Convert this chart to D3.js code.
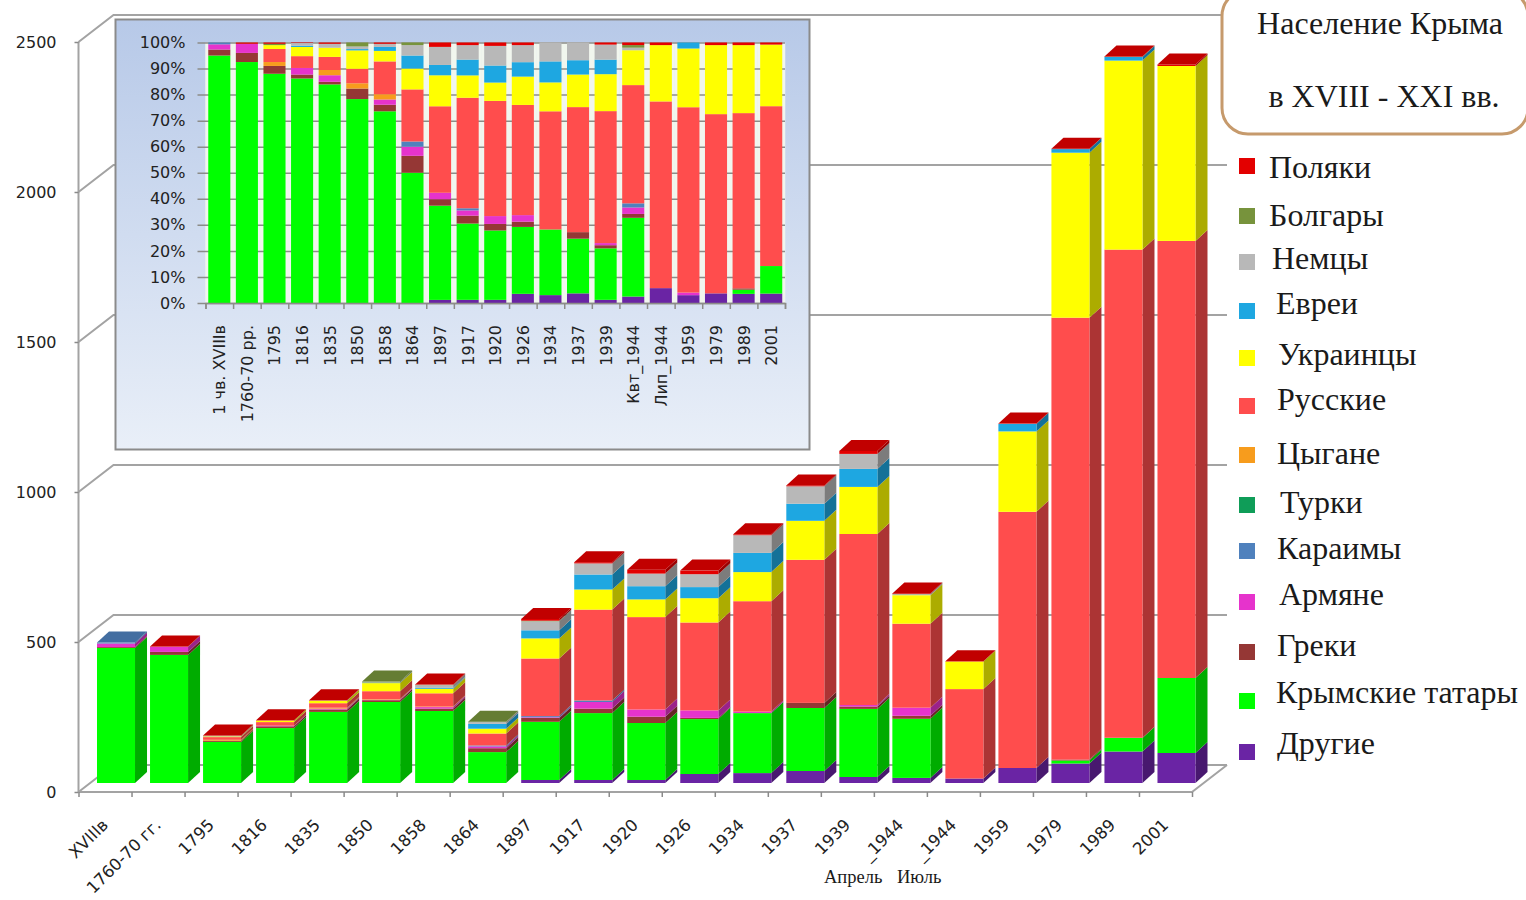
<!DOCTYPE html>
<html>
<head>
<meta charset="utf-8">
<title>Население Крыма</title>
<script src="https://cdn.jsdelivr.net/npm/d3@7"></script>
<style>
  html, body { margin: 0; padding: 0; background: #fff; }
  svg { display: block; }
  text { font-family: "DejaVu Sans", sans-serif; fill: #222; }
  .serif { font-family: "Liberation Serif", serif; fill: #1a1a1a; }
</style>
</head>
<body>
<div id="graph"></div>
<script>
// main chart, thousands of people
var categories = ["XVIIIв", "1760-70 гг.", "1795", "1816", "1835", "1850", "1858", "1864", "1897", "1917", "1920", "1926", "1934", "1937", "1939", "_1944", "_1944", "1959", "1979", "1989", "2001"];
var popOther   = [0, 0, 0, 0, 0, 0, 0, 0, 10, 10, 10, 30, 33, 40, 20, 17, 15, 50, 65, 105, 100];
var popTatars  = [450, 427, 137, 183, 237, 270, 240, 103, 194, 223, 190, 183, 200, 210, 227, 197, 0, 0, 10, 45, 250];
var popGreeks  = [3, 10, 4, 6, 8, 6, 8, 13, 13, 15, 21, 4, 0, 17, 8, 10, 0, 0, 3, 1, 0];
var popArmen   = [12, 17, 0, 2, 3, 2, 5, 6, 2, 22, 24, 25, 5, 0, 5, 27, 0, 0, 0, 0, 0];
var popKaraim  = [3, 0, 0, 0, 0, 0, 0, 3, 4, 5, 0, 0, 0, 0, 0, 0, 0, 0, 0, 0, 0];
var popTurks   = [0, 0, 0, 0, 0, 0, 0, 0, 0, 0, 0, 0, 0, 0, 0, 0, 0, 0, 0, 0, 0];
var popGypsy   = [0, 0, 3, 0, 3, 2, 2, 0, 0, 0, 0, 0, 0, 0, 0, 0, 0, 0, 0, 0, 0];
var popRussian = [0, 0, 9, 12, 15, 26, 44, 40, 192, 303, 308, 293, 368, 477, 570, 280, 298, 854, 1473, 1627, 1457];
var popUkrain  = [0, 0, 2, 5, 8, 27, 15, 16, 67, 67, 59, 81, 97, 130, 157, 95, 92, 268, 550, 630, 583];
var popJews    = [0, 0, 0, 0, 0, 1, 3, 16, 27, 50, 44, 37, 64, 57, 60, 0, 0, 25, 12, 12, 0];
var popGermans = [0, 0, 1, 0, 1, 1, 9, 6, 30, 37, 42, 43, 59, 58, 50, 3, 0, 0, 0, 0, 0];
var popBulgar  = [0, 0, 1, 0, 0, 3, 1, 1, 2, 0, 0, 0, 0, 0, 0, 1, 0, 0, 0, 1, 0];
var popPoles   = [0, 1, 1, 1, 1, 0, 1, 0, 6, 4, 13, 12, 3, 3, 10, 2, 1, 1, 1, 1, 5];

// inset, percent of the year's total
var insetCategories = ["1 чв. XVIIIв", "1760-70 рр.", "1795", "1816", "1835", "1850", "1858", "1864", "1897", "1917", "1920", "1926", "1934", "1937", "1939", "Квт_1944", "Лип_1944", "1959", "1979", "1989", "2001"];
var pctOther   = [0, 0, 0, 0, 0, 0, 0, 0, 1.2, 1.2, 1.2, 3.5, 3, 3.7, 1.2, 2.5, 5.7, 3, 3.7, 3.5, 3.6];
var pctTatars  = [95, 92.5, 88, 85.5, 83.5, 77.5, 73, 50, 36.5, 29, 26.5, 25.5, 25, 21, 19.5, 30.5, 0, 0, 0, 1.6, 10.5];
var pctGreeks  = [2.3, 3.5, 3, 1.5, 1, 4, 2.5, 6.5, 2.5, 3, 2.5, 2, 0, 2.5, 1.2, 1.5, 0, 0, 0, 0.5, 0];
var pctArmen   = [2, 3.5, 0, 2.5, 2.5, 0, 2, 3.5, 2.5, 2, 3, 2.5, 0, 0, 0.8, 2.5, 0, 1, 0, 0, 0];
var pctKaraim  = [0.7, 0, 0, 0, 0, 0, 0, 2, 0, 0.8, 0, 0, 0, 0, 0, 1.6, 0, 0, 0, 0, 0];
var pctTurks   = [0, 0, 0, 0, 0, 0, 0, 0, 0, 0, 0, 0, 0, 0, 0, 0, 0, 0, 0, 0, 0];
var pctGypsy   = [0, 0, 1.5, 0, 2, 2, 2, 0, 0, 0, 0, 0, 0, 0, 0, 0, 0, 0, 0, 0, 0];
var pctRussian = [0, 0, 5, 4.5, 5, 5.5, 12.5, 20, 33.5, 42, 44, 42, 45, 48, 50, 45.8, 71.6, 71, 68.8, 67, 61];
var pctUkrain  = [0, 0, 1.5, 3.5, 3.5, 7, 4, 8, 12, 8.5, 7, 10.8, 11, 12.5, 14, 13.5, 21.6, 22.5, 26.5, 26, 23.5];
var pctJews    = [0, 0, 0, 0.5, 0, 0.5, 1.5, 5, 4, 6, 6.5, 5.5, 8, 5.5, 5.5, 0, 0, 2.3, 0, 0, 0];
var pctGermans = [0, 0, 0, 1, 1.5, 1, 1.2, 4, 7, 5.5, 7.5, 6.5, 7.2, 6.8, 5.7, 1, 0, 0, 0, 0, 0];
var pctBulgar  = [0, 0, 0.5, 0, 0, 1.5, 0, 1, 0, 0, 0, 0, 0, 0, 0, 1, 0, 0, 0, 0, 0];
var pctPoles   = [0, 0.5, 0.5, 0.2, 0.5, 0, 0.5, 0, 1.7, 1, 1.3, 1, 0, 0, 0.8, 1, 1, 0, 1, 1, 0.8];

var seriesNames = ["Другие", "Крымские татары", "Греки", "Армяне", "Караимы", "Турки", "Цыгане", "Русские", "Украинцы", "Евреи", "Немцы", "Болгары", "Поляки"];
var seriesColors = ["#6a24a4", "#00ff00", "#953735", "#e633cc", "#4f81bd", "#0f9d58", "#f79c1d", "#ff4d4d", "#ffff00", "#1ea7e1", "#b8b8b8", "#77933c", "#e30000"];
var popValues = [popOther, popTatars, popGreeks, popArmen, popKaraim, popTurks, popGypsy, popRussian, popUkrain, popJews, popGermans, popBulgar, popPoles];
var pctValues = [pctOther, pctTatars, pctGreeks, pctArmen, pctKaraim, pctTurks, pctGypsy, pctRussian, pctUkrain, pctJews, pctGermans, pctBulgar, pctPoles];

var yTicks = [0, 500, 1000, 1500, 2000, 2500];
var pctTicks = [0, 10, 20, 30, 40, 50, 60, 70, 80, 90, 100];

// legend layout, top to bottom: square centre, label x, label centre
var legendSquareY = [166, 216, 262, 311, 358, 406, 455, 505, 551, 602, 652, 701, 752];
var legendLabelX = [1269, 1269, 1272, 1276, 1278, 1277, 1277, 1280, 1277, 1279, 1277, 1276, 1277];
var legendLabelY = [168, 216, 259, 304, 355, 400, 454, 503, 549, 595, 646, 693, 744];

var svgWidth = 1526;
var svgHeight = 900;

var svg = d3.select("#graph")
      .append("svg")
      .attr("width", svgWidth)
      .attr("height", svgHeight);

function rowsFor(names, valueLists) {
  return names.map(function(name, i){
    var row = {name: name, index: i};
    seriesNames.forEach(function(s, k){ row[s] = valueLists[k][i]; });
    return row;
  });
}

// ---- main 3d chart
var axisLeftX = 78.5;
var axisRightX = 1192;
var floorDx = 35, floorDy = -27;    // back wall offset
var planeDx = 11, planeDy = -9;     // where the front of the bars sits on the floor
var barDx = 12, barDy = -11;        // bar depth

var y = d3.scaleLinear().domain([0, 2500]).range([792, 42]);
var xTick = d3.scaleLinear().domain([0, categories.length]).range([axisLeftX, axisRightX]);
var x = d3.scaleBand()
      .domain(d3.range(categories.length))
      .range([axisLeftX + planeDx, axisRightX + planeDx])
      .paddingInner(0.283)
      .paddingOuter(0.1415);
var xLabel = d3.scaleBand().domain(d3.range(categories.length)).range([axisLeftX, axisRightX]);

var grid = svg.append("g").attr("fill", "none").attr("stroke", "#a3a3a3").attr("stroke-width", 2);

grid.selectAll("path")
      .data(yTicks)
      .enter().append("path")
      .attr("d", function(d){
        return d3.line()([
          [axisLeftX, y(d)],
          [axisLeftX + floorDx, y(d) + floorDy],
          [axisRightX + floorDx, y(d) + floorDy]
        ]);
      });

grid.append("path")
      .attr("d", d3.line()([
        [axisLeftX, y(0)],
        [axisRightX, y(0)],
        [axisRightX + floorDx, y(0) + floorDy]
      ]));

grid.append("path")
      .attr("d", d3.line()([[axisLeftX, y(0)], [axisLeftX, y(2500)]]));

var mainRows = rowsFor(categories, popValues);
var mainStack = d3.stack().keys(seriesNames)(mainRows);
var bars = svg.append("g");

mainStack.forEach(function(layer, k){
  var color = seriesColors[k];
  var side = d3.color(color).darker(1.1).formatHex();
  var layerG = bars.append("g");
  var visible = layer.filter(function(d){ return d[1] > d[0]; });

  layerG.selectAll("path")
      .data(visible)
      .enter().append("path")
      .attr("fill", side)
      .attr("d", function(d){
        var x1 = x(d.data.index) + x.bandwidth();
        var y0 = y(d[0]) + planeDy, y1 = y(d[1]) + planeDy;
        return d3.line()([[x1, y0], [x1 + barDx, y0 + barDy], [x1 + barDx, y1 + barDy], [x1, y1]]) + "Z";
      });

  layerG.selectAll("rect")
      .data(visible)
      .enter().append("rect")
      .attr("fill", color)
      .attr("x", function(d){ return x(d.data.index); })
      .attr("width", x.bandwidth())
      .attr("y", function(d){ return y(d[1]) + planeDy; })
      .attr("height", function(d){ return y(d[0]) - y(d[1]); });
});

// top face takes the colour of the last series in the bar
bars.append("g").selectAll("path")
      .data(mainRows)
      .enter().append("path")
      .attr("fill", function(row){
        var k = d3.max(seriesNames.map(function(s, i){ return row[s] > 0 ? i : -1; }));
        return d3.color(seriesColors[k]).darker(0.45).formatHex();
      })
      .attr("d", function(row){
        var total = d3.sum(seriesNames, function(s){ return row[s]; });
        var x0 = x(row.index), x1 = x0 + x.bandwidth(), t = y(total) + planeDy;
        return d3.line()([[x0, t], [x1, t], [x1 + barDx, t + barDy], [x0 + barDx, t + barDy]]) + "Z";
      });

var yAxis = d3.axisLeft(y).tickValues(yTicks).tickSize(4).tickPadding(18).tickFormat(d3.format("d"));
var yAxisG = svg.append("g")
      .attr("transform", "translate(" + axisLeftX + ",0)")
      .call(yAxis);
yAxisG.select(".domain").remove();
yAxisG.selectAll("line").attr("stroke", "#8a8a8a").attr("stroke-width", 1.5);
yAxisG.selectAll("text").attr("font-size", 16).attr("font-family", "DejaVu Sans").attr("fill", "#2b2b2b");

var xTickAxis = d3.axisBottom(xTick).tickValues(d3.range(categories.length + 1)).tickSize(5).tickFormat("");
var xTickG = svg.append("g")
      .attr("transform", "translate(0," + y(0) + ")")
      .call(xTickAxis);
xTickG.select(".domain").remove();
xTickG.selectAll("line").attr("stroke", "#8a8a8a").attr("stroke-width", 1.5);

var xLabelAxis = d3.axisBottom(xLabel).tickSize(0).tickFormat(function(i){ return categories[i]; });
var xLabelG = svg.append("g")
      .attr("transform", "translate(0," + y(0) + ")")
      .call(xLabelAxis);
xLabelG.select(".domain").remove();
xLabelG.selectAll("text")
      .attr("font-size", 16.5)
      .attr("font-family", "DejaVu Sans")
      .attr("fill", "#2b2b2b")
      .attr("text-anchor", "end")
      .attr("dy", null)
      .attr("y", 0)
      .attr("transform", "translate(4,34) rotate(-45)");

svg.append("text").attr("class", "serif").attr("x", 824).attr("y", 883).attr("font-size", 18.5).text("Апрель");
svg.append("text").attr("class", "serif").attr("x", 897).attr("y", 883).attr("font-size", 18.5).text("Июль");

// ---- inset, 100% stacked
var defs = svg.append("defs");
var gradient = defs.append("linearGradient")
      .attr("id", "panelFill")
      .attr("x1", 0).attr("y1", 0).attr("x2", 0).attr("y2", 1);
gradient.append("stop").attr("offset", "0%").attr("stop-color", "#b7c9e8");
gradient.append("stop").attr("offset", "100%").attr("stop-color", "#e9eff8");

svg.append("rect")
      .attr("x", 115.5).attr("y", 19.5)
      .attr("width", 694).attr("height", 430)
      .attr("fill", "url(#panelFill)")
      .attr("stroke", "#8b8b8b")
      .attr("stroke-width", 2);

var insetLeft = 205.5, insetRight = 785, insetTop = 42.5, insetBottom = 303;
var py = d3.scaleLinear().domain([0, 1]).range([insetBottom, insetTop]);
var pTick = d3.scaleLinear().domain([0, insetCategories.length]).range([insetLeft, insetRight]);
var px = d3.scaleBand()
      .domain(d3.range(insetCategories.length))
      .range([insetLeft, insetRight])
      .paddingInner(0.2)
      .paddingOuter(0.1);

var insetRows = rowsFor(insetCategories, pctValues);
var insetStack = d3.stack().keys(seriesNames).offset(d3.stackOffsetExpand)(insetRows);

// pale strips between the columns
svg.append("g").selectAll("rect")
      .data(d3.range(insetCategories.length))
      .enter().append("rect")
      .attr("x", function(i){ return px(i) - 3; })
      .attr("width", px.bandwidth() + 6)
      .attr("y", insetTop)
      .attr("height", insetBottom - insetTop)
      .attr("fill", "#f1f6ee");

var insetYAxis = d3.axisLeft(py)
      .tickValues(pctTicks.map(function(d){ return d / 100; }))
      .tickSize(insetRight - insetLeft + 8)
      .tickPadding(12)
      .tickFormat(d3.format(".0%"));
var insetYG = svg.append("g")
      .attr("transform", "translate(" + insetRight + ",0)")
      .call(insetYAxis);
insetYG.select(".domain").remove();
insetYG.selectAll("line").attr("stroke", "#8c8c88").attr("stroke-width", 1.5);
insetYG.selectAll("text").attr("font-size", 16).attr("font-family", "DejaVu Sans").attr("fill", "#2b2f3a");

svg.append("g").selectAll("g")
      .data(insetStack)
      .enter().append("g")
      .attr("fill", function(d, k){ return seriesColors[k]; })
      .selectAll("rect")
      .data(function(d){ return d; })
      .enter().append("rect")
      .attr("x", function(d){ return px(d.data.index); })
      .attr("width", px.bandwidth())
      .attr("y", function(d){ return py(d[1]); })
      .attr("height", function(d){ return py(d[0]) - py(d[1]); });

var insetTickG = svg.append("g")
      .attr("transform", "translate(0," + insetBottom + ")")
      .call(d3.axisBottom(pTick).tickValues(d3.range(insetCategories.length + 1)).tickSize(6).tickFormat(""));
insetTickG.select(".domain").attr("stroke", "#8c8c88").attr("stroke-width", 1.5);
insetTickG.selectAll("line").attr("stroke", "#8c8c88").attr("stroke-width", 1.5);

var insetXLabel = d3.scaleBand().domain(d3.range(insetCategories.length)).range([insetLeft, insetRight]);
var insetXG = svg.append("g")
      .attr("transform", "translate(0," + insetBottom + ")")
      .call(d3.axisBottom(insetXLabel).tickSize(0).tickFormat(function(i){ return insetCategories[i]; }));
insetXG.select(".domain").remove();
insetXG.selectAll("text")
      .attr("font-size", 16)
      .attr("font-family", "DejaVu Sans")
      .attr("fill", "#2b2f3a")
      .attr("text-anchor", "end")
      .attr("dy", null)
      .attr("y", 0)
      .attr("transform", "translate(6,22) rotate(-90)");

// ---- title box
svg.append("rect")
      .attr("x", 1222).attr("y", -10)
      .attr("width", 306).attr("height", 144)
      .attr("rx", 26)
      .attr("fill", "#fff")
      .attr("stroke", "#c69a6c")
      .attr("stroke-width", 3);

svg.append("text").attr("class", "serif").attr("x", 1380).attr("y", 34)
      .attr("text-anchor", "middle").attr("font-size", 32).text("Население Крыма");
svg.append("text").attr("class", "serif").attr("x", 1384).attr("y", 107)
      .attr("text-anchor", "middle").attr("font-size", 32).text("в XVIII - XXI вв.");

// ---- legend, Poles first
var legendItems = seriesNames.map(function(name, k){ return {name: name, color: seriesColors[k]}; }).reverse();

var legend = svg.append("g").selectAll("g")
      .data(legendItems)
      .enter().append("g");

legend.append("rect")
      .attr("x", 1239)
      .attr("y", function(d, i){ return legendSquareY[i] - 8; })
      .attr("width", 16)
      .attr("height", 16)
      .attr("fill", function(d){ return d.color; });

legend.append("text")
      .attr("class", "serif")
      .attr("x", function(d, i){ return legendLabelX[i]; })
      .attr("y", function(d, i){ return legendLabelY[i]; })
      .attr("dy", "0.32em")
      .attr("font-size", 32)
      .text(function(d){ return d.name; });
</script>
</body>
</html>
